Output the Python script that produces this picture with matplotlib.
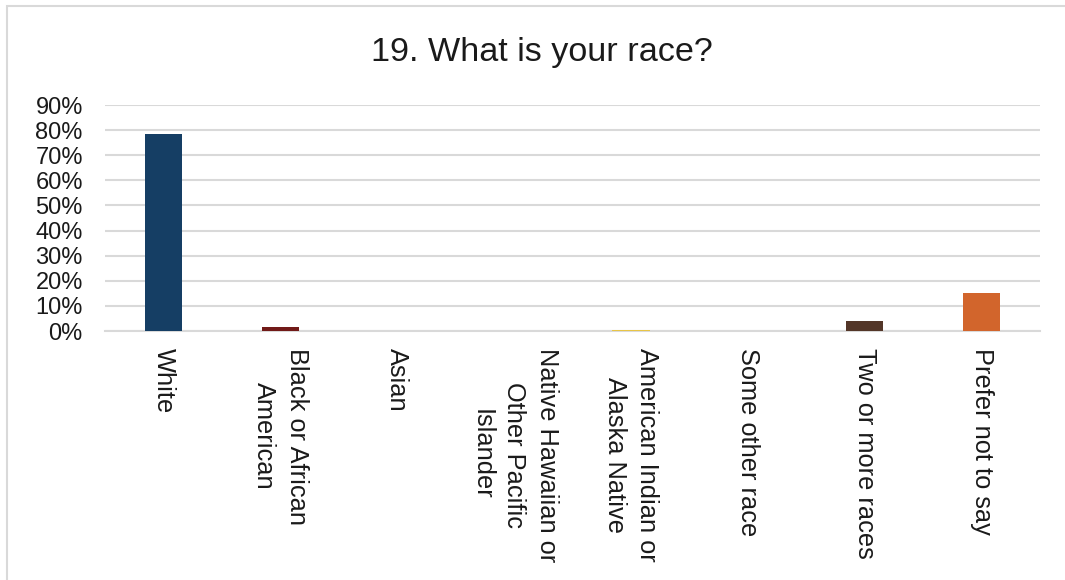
import matplotlib
matplotlib.use("Agg")
import matplotlib.pyplot as plt
from matplotlib.patches import Rectangle
from matplotlib.ticker import FuncFormatter

categories = ["White", "Black or African\nAmerican", "Asian",
              "Native Hawaiian or\nOther Pacific\nIslander",
              "American Indian or\nAlaska Native", "Some other race",
              "Two or more races", "Prefer not to say"]
values = [0.783, 0.016, 0.0, 0.0, 0.004, 0.0, 0.040, 0.152]
colors = ["#153E64", "#711A18", "#3E7D3A", "#6A4C93", "#E8C547", "#7F7F7F",
          "#533628", "#D2652C"]
yticks = [0, 0.1, 0.2, 0.3, 0.4, 0.5, 0.6, 0.7, 0.8, 0.9]
title = "19. What is your race?"

plt.rcParams['font.family'] = ['Liberation Sans', 'DejaVu Sans']

W, H = 1065, 580
fig = plt.figure(figsize=(W / 100, H / 100), dpi=100)
fig.patches.append(Rectangle((7 / W, -0.1), 1.2, 1 - 6 / H + 0.1,
                             transform=fig.transFigure, fill=False,
                             edgecolor="#D9D9D9", linewidth=1.5))

ax = fig.add_axes([105 / W, (H - 331) / H, 935 / W, 226 / H])
x = list(range(len(categories)))
ax.bar(x, values, width=0.32, color=colors, zorder=3)
ax.set_xlim(-0.5, len(categories) - 0.5)
ax.set_ylim(0, 0.9)
ax.set_yticks(yticks)
ax.yaxis.set_major_formatter(FuncFormatter(lambda v, p: f"{v * 100:.0f}%"))
ax.grid(axis="y", color="#D9D9D9", linewidth=1.5, zorder=0)
for s in ["top", "right", "left"]:
    ax.spines[s].set_visible(False)
ax.spines["bottom"].set_color("#D9D9D9")
ax.spines["bottom"].set_linewidth(1.5)
ax.tick_params(axis="y", length=0, pad=16, labelsize=17, labelcolor="#1a1a1a")
ax.tick_params(axis="x", length=0, pad=12)
ax.set_xticks(x)
ax.set_xticklabels(categories, rotation=-90, va="top", ha="center",
                   multialignment="center", fontsize=18.3, color="#1a1a1a",
                   linespacing=1.45)

fig.text(542 / W, 1 - 52 / H, title, ha="center", va="center",
         fontsize=24.6, color="#1a1a1a")

fig.savefig("out.png", dpi=100)
